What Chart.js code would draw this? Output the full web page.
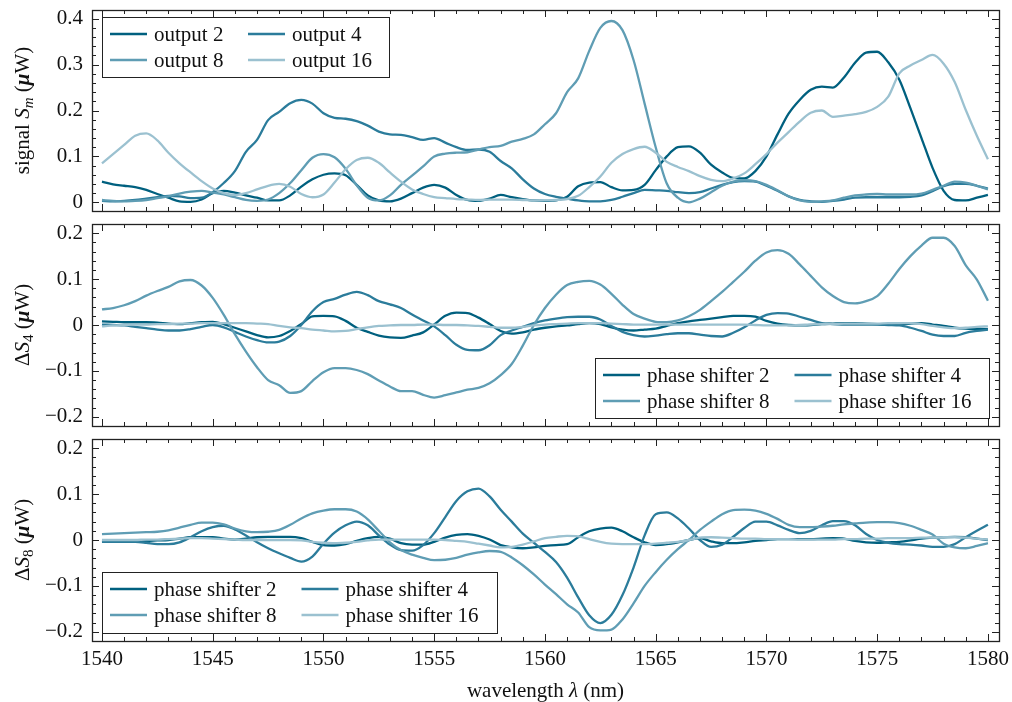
<!DOCTYPE html>
<html>
<head>
<meta charset="utf-8">
<script src="https://cdn.jsdelivr.net/npm/chart.js@4/dist/chart.umd.min.js"></script>
<style>
  body { margin: 0; background: #fff; }
  #wrap { position: relative; width: 1012px; height: 702px; overflow: hidden; }
  canvas { position: absolute; left: 0; }
</style>
</head>
<body>
<div id="wrap">
  <canvas id="top" width="1012" height="216" style="top:0px"></canvas>
  <canvas id="mid" width="1012" height="214" style="top:216px"></canvas>
  <canvas id="bot" width="1012" height="272" style="top:430px"></canvas>
</div>
<script>
// wavelength grid (nm)
const wavelength = [
  1540, 1540.5, 1541, 1541.5, 1542, 1542.5, 1543, 1543.5, 1544, 1544.5,
  1545, 1545.5, 1546, 1546.5, 1547, 1547.5, 1548, 1548.5, 1549, 1549.5,
  1550, 1550.5, 1551, 1551.5, 1552, 1552.5, 1553, 1553.5, 1554, 1554.5,
  1555, 1555.5, 1556, 1556.5, 1557, 1557.5, 1558, 1558.5, 1559, 1559.5,
  1560, 1560.5, 1561, 1561.5, 1562, 1562.5, 1563, 1563.5, 1564, 1564.5,
  1565, 1565.5, 1566, 1566.5, 1567, 1567.5, 1568, 1568.5, 1569, 1569.5,
  1570, 1570.5, 1571, 1571.5, 1572, 1572.5, 1573, 1573.5, 1574, 1574.5,
  1575, 1575.5, 1576, 1576.5, 1577, 1577.5, 1578, 1578.5, 1579, 1579.5,
  1580
];

// top panel: signal S_m (uW)
const signal2 = [
  0.045, 0.039, 0.036, 0.033, 0.027, 0.018, 0.010, 0.002, 0.001, 0.006,
  0.020, 0.025, 0.021, 0.015, 0.010, 0.004, 0.004, 0.015, 0.034, 0.050,
  0.060, 0.063, 0.059, 0.038, 0.015, 0.004, 0.002, 0.008, 0.020, 0.032,
  0.038, 0.032, 0.016, 0.005, 0.003, 0.008, 0.016, 0.011, 0.007, 0.004,
  0.003, 0.004, 0.012, 0.035, 0.043, 0.044, 0.033, 0.026, 0.027, 0.038,
  0.070, 0.100, 0.120, 0.122, 0.108, 0.082, 0.065, 0.053, 0.052, 0.068,
  0.100, 0.148, 0.193, 0.223, 0.245, 0.252, 0.250, 0.272, 0.304, 0.326,
  0.328, 0.305, 0.267, 0.205, 0.140, 0.075, 0.025, 0.005, 0.004, 0.010,
  0.016
];
const signal4 = [
  0.003, 0.002, 0.003, 0.005, 0.008, 0.011, 0.014, 0.013, 0.009, 0.010,
  0.022, 0.042, 0.068, 0.110, 0.136, 0.179, 0.197, 0.216, 0.223, 0.215,
  0.194, 0.184, 0.182, 0.177, 0.167, 0.154, 0.148, 0.147, 0.142, 0.136,
  0.140, 0.130, 0.120, 0.114, 0.115, 0.110, 0.090, 0.074, 0.050, 0.030,
  0.018, 0.012, 0.008, 0.004, 0.002, 0.002, 0.005, 0.012, 0.020, 0.027,
  0.026, 0.025, 0.022, 0.020, 0.022, 0.030, 0.038, 0.044, 0.046, 0.045,
  0.036, 0.025, 0.013, 0.005, 0.002, 0.001, 0.003, 0.006, 0.010, 0.011,
  0.011, 0.011, 0.011, 0.012, 0.015, 0.024, 0.035, 0.040, 0.040, 0.036,
  0.030
];
const signal8 = [
  0.005, 0.003, 0.002, 0.003, 0.005, 0.009, 0.013, 0.019, 0.023, 0.025,
  0.021, 0.017, 0.011, 0.005, 0.003, 0.006, 0.020, 0.042, 0.070, 0.097,
  0.105, 0.098, 0.073, 0.037, 0.010, 0.004, 0.015, 0.038, 0.058, 0.078,
  0.100, 0.106, 0.108, 0.109, 0.115, 0.120, 0.123, 0.132, 0.138, 0.148,
  0.170, 0.194, 0.240, 0.270, 0.330, 0.380, 0.395, 0.375, 0.310, 0.215,
  0.120, 0.041, 0.010, 0.000, 0.008, 0.022, 0.036, 0.045, 0.048, 0.046,
  0.038, 0.026, 0.013, 0.004, 0.001, 0.002, 0.004, 0.010, 0.015, 0.017,
  0.018, 0.017, 0.017, 0.017, 0.019, 0.027, 0.036, 0.045, 0.043, 0.036,
  0.028
];
const signal16 = [
  0.085, 0.105, 0.125, 0.145, 0.150, 0.135, 0.108, 0.085, 0.065, 0.046,
  0.030, 0.020, 0.016, 0.020, 0.028, 0.036, 0.040, 0.034, 0.018, 0.011,
  0.017, 0.043, 0.072, 0.092, 0.097, 0.086, 0.065, 0.045, 0.028, 0.018,
  0.011, 0.009, 0.007, 0.006, 0.005, 0.006, 0.006, 0.006, 0.005, 0.004,
  0.004, 0.005, 0.007, 0.014, 0.033, 0.056, 0.086, 0.105, 0.116, 0.121,
  0.108, 0.088, 0.077, 0.068, 0.057, 0.049, 0.046, 0.052, 0.063, 0.083,
  0.105, 0.130, 0.153, 0.176, 0.195, 0.200, 0.186, 0.189, 0.192, 0.197,
  0.208, 0.230, 0.281, 0.298, 0.310, 0.321, 0.302, 0.262, 0.201, 0.145,
  0.094
];

// middle panel: delta S_4 (uW)
const dS4ps2 = [
  0.008, 0.007, 0.006, 0.006, 0.006, 0.005, 0.003, 0.002, 0.004, 0.006,
  0.007, 0.002, -0.006, -0.014, -0.022, -0.027, -0.024, -0.013, 0.002, 0.019,
  0.020, 0.019, 0.009, -0.006, -0.015, -0.023, -0.027, -0.028, -0.023, -0.016,
  0.001, 0.020, 0.027, 0.026, 0.016, 0.002, -0.013, -0.019, -0.016, -0.010,
  -0.006, -0.003, -0.001, 0.002, 0.004, 0.002, -0.005, -0.010, -0.012, -0.010,
  -0.008, -0.002, 0.004, 0.008, 0.011, 0.014, 0.017, 0.020, 0.020, 0.018,
  0.009, 0.003, 0.000, -0.001, 0.000, 0.002, 0.003, 0.004, 0.004, 0.003,
  0.002, 0.001, 0.001, 0.003, 0.004, 0.001, -0.002, -0.006, -0.008, -0.009,
  -0.009
];
const dS4ps4 = [
  0.001, 0.000, -0.001, -0.004, -0.007, -0.010, -0.012, -0.012, -0.009, -0.004,
  0.000, -0.005, -0.015, -0.025, -0.033, -0.038, -0.036, -0.024, 0.000, 0.030,
  0.050, 0.057, 0.066, 0.072, 0.065, 0.052, 0.045, 0.037, 0.023, 0.010,
  -0.003, -0.022, -0.043, -0.054, -0.055, -0.044, -0.022, -0.012, -0.004, 0.004,
  0.010, 0.014, 0.017, 0.018, 0.018, 0.012, -0.002, -0.015, -0.022, -0.025,
  -0.023, -0.020, -0.018, -0.018, -0.021, -0.024, -0.025, -0.017, -0.005, 0.010,
  0.022, 0.026, 0.025, 0.018, 0.011, 0.004, 0.002, 0.001, 0.001, 0.001,
  0.001, 0.000, -0.001, -0.006, -0.013, -0.021, -0.024, -0.024, -0.017, -0.013,
  -0.010
];
const dS4ps8 = [
  0.034, 0.037, 0.043, 0.052, 0.064, 0.074, 0.083, 0.095, 0.098, 0.086,
  0.059, 0.022, -0.020, -0.058, -0.092, -0.120, -0.131, -0.148, -0.144, -0.122,
  -0.103, -0.094, -0.094, -0.098, -0.107, -0.121, -0.134, -0.144, -0.144, -0.152,
  -0.158, -0.153, -0.147, -0.141, -0.137, -0.127, -0.109, -0.085, -0.045, 0.000,
  0.037, 0.066, 0.087, 0.094, 0.096, 0.088, 0.068, 0.044, 0.024, 0.014,
  0.007, 0.006, 0.010, 0.019, 0.033, 0.052, 0.072, 0.094, 0.116, 0.140,
  0.158, 0.163, 0.155, 0.132, 0.107, 0.082, 0.063, 0.050, 0.047, 0.052,
  0.063, 0.090, 0.122, 0.150, 0.173, 0.190, 0.190, 0.172, 0.130, 0.099,
  0.053
];
const dS4ps16 = [
  -0.003, -0.001, 0.000, 0.001, 0.001, 0.002, 0.002, 0.003, 0.003, 0.004,
  0.004, 0.004, 0.004, 0.004, 0.003, 0.002, -0.002, -0.005, -0.007, -0.010,
  -0.012, -0.014, -0.013, -0.009, -0.005, -0.002, -0.001, 0.000, 0.000, 0.001,
  0.001, 0.000, 0.000, -0.001, -0.002, -0.004, -0.006, -0.006, -0.004, -0.001,
  0.001, 0.002, 0.003, 0.004, 0.004, 0.004, 0.003, 0.002, 0.001, 0.001,
  0.001, 0.001, 0.001, 0.001, 0.001, 0.001, 0.001, 0.001, 0.001, 0.000,
  -0.001, -0.001, -0.001, 0.000, 0.001, 0.002, 0.002, 0.003, 0.003, 0.003,
  0.003, 0.004, 0.004, 0.004, 0.002, -0.002, -0.005, -0.007, -0.006, -0.004,
  -0.003
];

// bottom panel: delta S_8 (uW)
const dS8ps2 = [
  -0.002, -0.002, -0.002, -0.002, -0.002, -0.001, 0.000, 0.003, 0.006, 0.006,
  0.006, 0.003, 0.001, 0.003, 0.006, 0.007, 0.007, 0.007, 0.004, -0.004,
  -0.011, -0.012, -0.009, -0.002, 0.004, 0.007, 0.003, -0.007, -0.010, -0.010,
  -0.004, 0.005, 0.011, 0.013, 0.009, 0.001, -0.011, -0.016, -0.018, -0.016,
  -0.013, -0.011, -0.009, 0.006, 0.019, 0.025, 0.027, 0.019, 0.006, -0.005,
  -0.011, -0.009, -0.005, 0.000, 0.004, -0.003, -0.007, -0.007, -0.005, -0.002,
  0.000, 0.002, 0.002, 0.002, 0.002, 0.003, 0.004, 0.003, -0.002, -0.005,
  -0.006, -0.005, -0.004, -0.001, 0.003, 0.005, 0.006, 0.007, 0.006, 0.003,
  0.000
];
const dS8ps4 = [
  -0.004, -0.004, -0.004, -0.004, -0.006, -0.009, -0.009, -0.005, 0.006, 0.019,
  0.028, 0.031, 0.023, 0.010, -0.005, -0.018, -0.029, -0.039, -0.047, -0.036,
  -0.008, 0.016, 0.032, 0.040, 0.032, 0.010, -0.010, -0.022, -0.023, -0.011,
  0.015, 0.050, 0.085, 0.106, 0.112, 0.095, 0.066, 0.040, 0.014, -0.006,
  -0.026, -0.048, -0.082, -0.125, -0.164, -0.181, -0.163, -0.120, -0.060, 0.010,
  0.056, 0.060, 0.047, 0.025, 0.000, -0.015, -0.010, 0.007, 0.026, 0.040,
  0.040, 0.032, 0.022, 0.015, 0.020, 0.032, 0.041, 0.041, 0.032, 0.013,
  0.000, -0.006, -0.009, -0.010, -0.012, -0.015, -0.015, -0.009, 0.006, 0.020,
  0.033
];
const dS8ps8 = [
  0.013, 0.014, 0.015, 0.016, 0.017, 0.018, 0.021, 0.027, 0.033, 0.038,
  0.038, 0.034, 0.025, 0.019, 0.017, 0.018, 0.022, 0.033, 0.047, 0.058,
  0.064, 0.067, 0.067, 0.062, 0.045, 0.020, -0.005, -0.022, -0.032, -0.039,
  -0.044, -0.043, -0.039, -0.032, -0.027, -0.024, -0.026, -0.038, -0.055, -0.075,
  -0.097, -0.118, -0.140, -0.158, -0.190, -0.197, -0.195, -0.173, -0.138, -0.100,
  -0.070, -0.043, -0.020, 0.000, 0.022, 0.040, 0.056, 0.065, 0.066, 0.064,
  0.057, 0.046, 0.033, 0.028, 0.028, 0.029, 0.031, 0.034, 0.036, 0.038,
  0.039, 0.039, 0.037, 0.031, 0.022, 0.012, -0.008, -0.016, -0.018, -0.013,
  -0.007
];
const dS8ps16 = [
  0.000, 0.000, 0.000, 0.000, 0.001, 0.001, 0.002, 0.003, 0.004, 0.004,
  0.003, 0.002, 0.001, 0.000, 0.000, 0.000, 0.000, 0.000, -0.001, -0.004,
  -0.006, -0.007, -0.006, -0.004, -0.001, 0.001, 0.001, 0.001, 0.001, 0.001,
  0.001, 0.000, -0.002, -0.004, -0.008, -0.012, -0.016, -0.015, -0.010, -0.003,
  0.004, 0.007, 0.009, 0.008, 0.002, -0.004, -0.008, -0.009, -0.009, -0.009,
  -0.008, -0.006, -0.004, 0.000, 0.005, 0.006, 0.005, 0.004, 0.003, 0.003,
  0.002, 0.002, 0.002, 0.001, 0.001, 0.001, 0.001, 0.002, 0.002, 0.003,
  0.003, 0.004, 0.004, 0.004, 0.005, 0.005, 0.006, 0.006, 0.005, 0.003,
  0.001
];

const outputLabels = ['output 2', 'output 4', 'output 8', 'output 16'];
const shifterLabels = ['phase shifter 2', 'phase shifter 4', 'phase shifter 8', 'phase shifter 16'];
const xTicks = [1540, 1545, 1550, 1555, 1560, 1565, 1570, 1575, 1580];
const yTicksSignal = [0, 0.1, 0.2, 0.3, 0.4];
const yTicksDelta = [-0.2, -0.1, 0, 0.1, 0.2];
const seriesColors = ['#00607f', '#2b7c9b', '#5f9db4', '#9bc1d0'];

const serif = '"Liberation Serif", "Times New Roman", serif';
const ink = '#111';

function pts(vals) {
  return vals.map((v, i) => ({ x: wavelength[i], y: v }));
}

function fmtTick(v) {
  if (v === 0) return '0';
  return v < 0 ? '\u2212' + Math.abs(v) : String(v);
}

// draws text made of several font runs, centred on (cx, cy)
function drawRich(ctx, segs, cx, cy, rot) {
  ctx.save();
  ctx.translate(cx, cy);
  ctx.rotate(rot);
  ctx.fillStyle = ink;
  ctx.textBaseline = 'alphabetic';
  let w = 0;
  segs.forEach(s => { ctx.font = s.font; w += ctx.measureText(s.text).width; });
  let x = -w / 2;
  segs.forEach(s => {
    ctx.font = s.font;
    ctx.fillText(s.text, x, 7 + (s.dy || 0));
    x += ctx.measureText(s.text).width;
  });
  ctx.restore();
}

// box, inward ticks on all four sides
const framePlugin = {
  id: 'frame',
  afterDatasetsDraw(chart) {
    const { ctx, chartArea: a, scales: { x, y } } = chart;
    ctx.save();
    ctx.strokeStyle = '#222';
    ctx.lineWidth = 1;
    ctx.beginPath();
    for (let k = Math.ceil(x.min); k <= Math.floor(x.max); k++) {
      const px = Math.round(x.getPixelForValue(k)) + 0.5;
      const len = k % 5 === 0 ? 7 : 4;
      ctx.moveTo(px, a.bottom); ctx.lineTo(px, a.bottom - len);
      ctx.moveTo(px, a.top); ctx.lineTo(px, a.top + len);
    }
    for (let k = Math.ceil(y.min / 0.02 - 1e-9); k <= Math.floor(y.max / 0.02 + 1e-9); k++) {
      const py = Math.round(y.getPixelForValue(k * 0.02)) + 0.5;
      const len = k % 5 === 0 ? 7 : 4;
      ctx.moveTo(a.left, py); ctx.lineTo(a.left + len, py);
      ctx.moveTo(a.right, py); ctx.lineTo(a.right - len, py);
    }
    ctx.stroke();
    ctx.lineWidth = 1.3;
    ctx.strokeRect(Math.round(a.left) + 0.5, Math.round(a.top) + 0.5,
      Math.round(a.right - a.left), Math.round(a.bottom - a.top));
    ctx.restore();
  }
};

const legendPlugin = {
  id: 'boxLegend',
  afterDraw(chart, args, o) {
    const { ctx, chartArea: a } = chart;
    const left = o.right ? a.right - 10 - o.width : a.left + 10;
    const top = o.bottom ? a.bottom - 8 - o.height : a.top + 7;
    ctx.save();
    ctx.fillStyle = '#fff';
    ctx.fillRect(left, top, o.width, o.height);
    ctx.strokeStyle = '#222';
    ctx.lineWidth = 1;
    ctx.strokeRect(Math.round(left) + 0.5, Math.round(top) + 0.5, o.width, o.height);
    ctx.font = '21px ' + serif;
    ctx.textBaseline = 'middle';
    chart.data.datasets.forEach((ds, i) => {
      const lx = left + 8 + (i % 2) * o.colStep;
      const ly = top + 17 + Math.floor(i / 2) * 26;
      ctx.strokeStyle = ds.borderColor;
      ctx.lineWidth = 2.4;
      ctx.beginPath();
      ctx.moveTo(lx, ly); ctx.lineTo(lx + 37, ly);
      ctx.stroke();
      ctx.fillStyle = ink;
      ctx.fillText(ds.label, lx + 44, ly + 1);
    });
    ctx.restore();
  }
};

const titlePlugin = {
  id: 'axisTitles',
  afterDraw(chart, args, o) {
    const { ctx, chartArea: a } = chart;
    if (o.y) drawRich(ctx, o.y, 22, (a.top + a.bottom) / 2, -Math.PI / 2);
    if (o.x) drawRich(ctx, o.x, (a.left + a.right) / 2, chart.height - 12, 0);
  }
};

const rm = '21px ' + serif;
const it = 'italic 21px ' + serif;
const sub = 'italic 15px ' + serif;
const subRm = '15px ' + serif;
const bi = 'bold italic 21px ' + serif;

function makeChart(id, labels, series, yRange, yTicks, showX, pad, legendOpts, titles) {
  return new Chart(document.getElementById(id), {
    type: 'line',
    data: {
      datasets: series.map((vals, i) => ({
        label: labels[i],
        data: pts(vals),
        borderColor: seriesColors[i],
        borderWidth: 2.3,
        pointRadius: 0,
        fill: false,
        cubicInterpolationMode: 'monotone',
        order: 3 - i
      }))
    },
    options: {
      responsive: false,
      animation: false,
      devicePixelRatio: 1,
      events: [],
      layout: { padding: { left: 0, right: 13, top: pad[0], bottom: pad[1] } },
      plugins: {
        legend: { display: false },
        tooltip: { enabled: false },
        boxLegend: legendOpts,
        axisTitles: titles
      },
      scales: {
        x: {
          type: 'linear',
          min: 1539.55,
          max: 1580.5,
          display: showX,
          grid: { display: false, drawTicks: false },
          border: { display: false },
          afterBuildTicks: s => { s.ticks = xTicks.map(v => ({ value: v })); },
          ticks: {
            font: { family: serif, size: 21 }, color: ink, padding: 6,
            maxRotation: 0, autoSkip: false, callback: v => String(v)
          },
          afterFit: s => { s.paddingLeft = 0; s.paddingRight = 0; if (showX) s.height = 61; }
        },
        y: {
          min: yRange[0],
          max: yRange[1],
          grid: { display: false, drawTicks: false },
          border: { display: false },
          afterBuildTicks: s => { s.ticks = yTicks.map(v => ({ value: v })); },
          ticks: { font: { family: serif, size: 21 }, color: ink, padding: 9, callback: v => fmtTick(v) },
          afterFit: s => { s.width = 92; s.paddingTop = 0; s.paddingBottom = 0; }
        }
      }
    },
    plugins: [framePlugin, legendPlugin, titlePlugin]
  });
}

makeChart('top', outputLabels, [signal2, signal4, signal8, signal16],
  [-0.019, 0.419], yTicksSignal, false, [10, 5],
  { width: 287, height: 60, colStep: 138 },
  { y: [
    { text: 'signal ', font: rm }, { text: 'S', font: it }, { text: 'm', font: sub, dy: 4 },
    { text: ' (', font: rm }, { text: '\u03bc', font: bi }, { text: 'W)', font: rm }
  ] });

makeChart('mid', shifterLabels, [dS4ps2, dS4ps4, dS4ps8, dS4ps16],
  [-0.22, 0.22], yTicksDelta, false, [8, 4],
  { width: 394, height: 60, colStep: 191.5, right: true, bottom: true },
  { y: [
    { text: '\u0394', font: rm }, { text: 'S', font: it }, { text: '4', font: subRm, dy: 4 },
    { text: ' (', font: rm }, { text: '\u03bc', font: bi }, { text: 'W)', font: rm }
  ] });

makeChart('bot', shifterLabels, [dS8ps2, dS8ps4, dS8ps8, dS8ps16],
  [-0.22, 0.22], yTicksDelta, true, [9, 0],
  { width: 395, height: 61, colStep: 191.5, bottom: true },
  { y: [
    { text: '\u0394', font: rm }, { text: 'S', font: it }, { text: '8', font: subRm, dy: 4 },
    { text: ' (', font: rm }, { text: '\u03bc', font: bi }, { text: 'W)', font: rm }
  ],
    x: [
    { text: 'wavelength ', font: rm }, { text: '\u03bb', font: it }, { text: ' (nm)', font: rm }
  ] });
</script>
</body>
</html>
